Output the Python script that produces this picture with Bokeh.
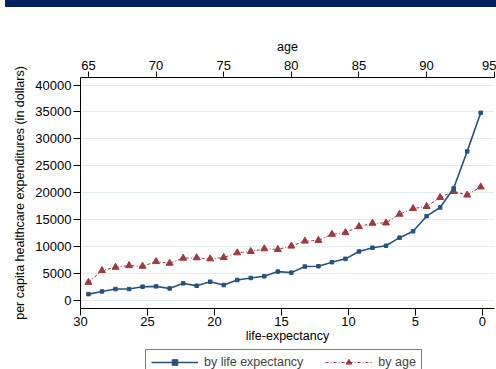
from bokeh.plotting import figure
from bokeh.models import Range1d, LinearAxis, Legend, LegendItem, Div, FixedTicker
from bokeh.layouts import column
from bokeh.embed import file_html
from bokeh.resources import INLINE

# ---- data ----
age = list(range(65, 95))
by_life_expectancy = [1180, 1680, 2120, 2120, 2560, 2620, 2240, 3180, 2740, 3490,
                      2870, 3800, 4180, 4490, 5360, 5170, 6300, 6360, 7100, 7730,
                      9100, 9790, 10160, 11660, 12840, 15650, 17270, 20820, 27680, 34840]
by_age = [3370, 5550, 6170, 6480, 6360, 7230, 6920, 7850, 7920, 7730,
          7980, 8850, 9100, 9600, 9480, 10100, 11030, 11160, 12280, 12590,
          13710, 14340, 14400, 16020, 17070, 17450, 19130, 20250, 19580, 21080]
y_ticks = [0, 5000, 10000, 15000, 20000, 25000, 30000, 35000, 40000]
le_ticks = [30, 25, 20, 15, 10, 5, 0]
age_ticks = [65, 70, 75, 80, 85, 90, 95]
series_names = ["by life expectancy", "by age"]

BLUE = "#27527e"
RED = "#9b3a40"
FONT = "Liberation Sans"

p = figure(width=496, height=359,
           x_range=Range1d(30, -0.9), y_range=Range1d(-1488, 41395),
           output_backend="svg", toolbar_location=None,
           min_border_left=80, min_border_right=2,
           min_border_top=65, min_border_bottom=63,
           x_axis_label="life-expectancy",
           y_axis_label="per capita healthcare expenditures (in dollars)")
p.extra_x_ranges = {"age": Range1d(64.41, 95.02)}
p.outline_line_color = None
p.background_fill_color = "white"
p.border_fill_color = "white"

top_axis = LinearAxis(x_range_name="age", axis_label="age")
p.add_layout(top_axis, "above")
bottom_axis = p.below[0]
left_axis = p.left[0]

for ax in [bottom_axis, left_axis, top_axis]:
    ax.axis_line_color = "black"
    ax.axis_line_width = 1
    ax.major_tick_line_color = "black"
    ax.major_tick_in = 0
    ax.major_tick_out = 7
    ax.minor_tick_line_color = None
    ax.major_label_text_font = FONT
    ax.major_label_text_font_size = "13px"
    ax.major_label_text_color = "black"
    ax.axis_label_text_font = FONT
    ax.axis_label_text_font_size = "12.5px"
    ax.axis_label_text_font_style = "normal"
    ax.axis_label_text_color = "black"

left_axis.ticker = FixedTicker(ticks=y_ticks)
left_axis.major_label_standoff = 2
left_axis.axis_label_standoff = 5
bottom_axis.ticker = FixedTicker(ticks=le_ticks)
bottom_axis.major_label_standoff = 1
bottom_axis.axis_label_standoff = 0
top_axis.ticker = FixedTicker(ticks=age_ticks)
top_axis.major_tick_out = 6
top_axis.major_label_standoff = 2
top_axis.axis_label_standoff = 4

p.xgrid.grid_line_color = None
p.ygrid.ticker = FixedTicker(ticks=y_ticks)
p.ygrid.grid_line_color = "#e3edf1"
p.ygrid.grid_line_width = 1


def draw(fig):
    l2 = fig.line(age, by_age, x_range_name="age", line_color=RED, line_width=1,
                  line_dash="3 2 1 2")
    s2 = fig.scatter(age, by_age, x_range_name="age", marker="triangle", size=7,
                     fill_color=RED, line_color=RED)
    l1 = fig.line(age, by_life_expectancy, x_range_name="age", line_color=BLUE,
                  line_width=1.6)
    s1 = fig.scatter(age, by_life_expectancy, x_range_name="age", marker="square",
                     size=3.5, fill_color=BLUE, line_color=BLUE)
    return (l1, s1), (l2, s2)


draw(p)

# legend strip (own small figure, its data renderers sit outside its view)
lf = figure(width=496, height=31, x_range=Range1d(0, 1), y_range=Range1d(0, 1),
            output_backend="svg", toolbar_location=None,
            min_border_left=0, min_border_right=0, min_border_top=0, min_border_bottom=0)
lf.extra_x_ranges = {"age": Range1d(0, 1)}
lf.axis.visible = False
lf.grid.visible = False
lf.outline_line_color = None
lf.background_fill_alpha = 0
lf.border_fill_alpha = 0
r_le, r_age = draw(lf)
legend = Legend(items=[LegendItem(label=series_names[0], renderers=list(r_le)),
                       LegendItem(label=series_names[1], renderers=list(r_age))],
                orientation="horizontal", location=(65, 3),
                border_line_color="black", border_line_width=1,
                background_fill_color="white", background_fill_alpha=1,
                padding=5, spacing=22, label_standoff=6, margin=0,
                glyph_width=47, glyph_height=14, label_height=14,
                label_text_font=FONT, label_text_font_size="12.5px")
lf.add_layout(legend)
lf.styles = {"margin-top": "-24px"}

band = Div(width=496, height=10, styles={"background-color": "#00205f"})
layout = column(band, p, lf, spacing=0)
layout.styles = {"margin-top": "-8px"}

open("out.html", "w").write(file_html(layout, INLINE))
